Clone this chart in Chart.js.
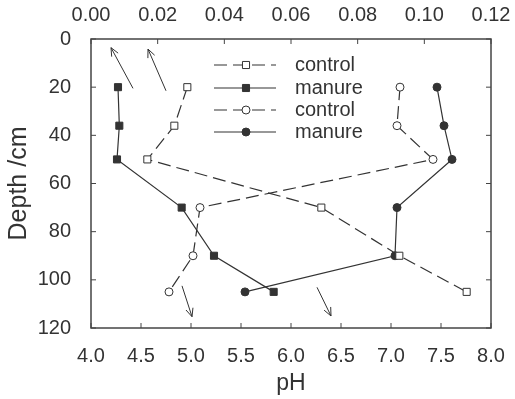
<!DOCTYPE html>
<html>
<head>
<meta charset="utf-8">
<script src="https://cdn.jsdelivr.net/npm/chart.js@4.4.1/dist/chart.umd.min.js"></script>
<style>
  body { margin: 0; background: #fff; }
  canvas { display: block; }
</style>
</head>
<body>
<canvas id="chartCanvas" width="515" height="399"></canvas>
<script>
// depth of each sample (cm)
const depthCm = [20, 36, 50, 70, 90, 105];
// squares -> top axis
const controlSquare = [0.0289, 0.0250, 0.0169, 0.0691, 0.0925, 0.1127];
const manureSquare = [0.0081, 0.0085, 0.0078, 0.0272, 0.0369, 0.0548];
// circles -> pH (bottom axis)
const controlCircle = [7.09, 7.06, 7.42, 5.09, 5.02, 4.78];
const manureCircle = [7.46, 7.53, 7.61, 7.06, 7.04, 5.54];

const seriesLabels = ['control', 'manure', 'control', 'manure'];

// arrows pointing at the axis used, in pH / depth units
const arrowFrom = [[4.42, 20.5], [4.75, 21.5], [4.91, 102.5], [6.26, 103.1]];
const arrowTo = [[4.20, 3.6], [4.57, 4.2], [5.01, 115.3], [6.40, 115.0]];

const INK = '#333';
const FONT = 'Liberation Sans, Arial, sans-serif';

function toPoints(xs) {
    return xs.map((v, i) => ({ x: v, y: depthCm[i] }));
}

const frameAndTicks = {
    id: 'frameAndTicks',
    afterDraw(chart) {
        const ctx = chart.ctx;
        const a = chart.chartArea;
        const len = 5;
        ctx.save();
        ctx.strokeStyle = '#444';
        ctx.lineWidth = 1;
        ctx.beginPath();
        chart.scales.x.ticks.forEach(t => {
            const px = chart.scales.x.getPixelForValue(t.value);
            ctx.moveTo(px, a.bottom); ctx.lineTo(px, a.bottom - len);
        });
        chart.scales.x2.ticks.forEach(t => {
            const px = chart.scales.x2.getPixelForValue(t.value);
            ctx.moveTo(px, a.top); ctx.lineTo(px, a.top + len);
        });
        chart.scales.y.ticks.forEach(t => {
            const py = chart.scales.y.getPixelForValue(t.value);
            ctx.moveTo(a.left, py); ctx.lineTo(a.left + len, py);
            ctx.moveTo(a.right, py); ctx.lineTo(a.right - len, py);
        });
        ctx.stroke();
        ctx.lineWidth = 1.5;
        ctx.strokeRect(a.left, a.top, a.right - a.left, a.bottom - a.top);

        // arrows
        const sx = chart.scales.x, sy = chart.scales.y;
        ctx.lineWidth = 1;
        ctx.strokeStyle = INK;
        for (let i = 0; i < arrowFrom.length; i++) {
            const x1 = sx.getPixelForValue(arrowFrom[i][0]);
            const y1 = sy.getPixelForValue(arrowFrom[i][1]);
            const x2 = sx.getPixelForValue(arrowTo[i][0]);
            const y2 = sy.getPixelForValue(arrowTo[i][1]);
            const ang = Math.atan2(y2 - y1, x2 - x1);
            const h = 9, spread = 0.42;
            ctx.beginPath();
            ctx.moveTo(x1, y1); ctx.lineTo(x2, y2);
            ctx.moveTo(x2 - h * Math.cos(ang - spread), y2 - h * Math.sin(ang - spread));
            ctx.lineTo(x2, y2);
            ctx.lineTo(x2 - h * Math.cos(ang + spread), y2 - h * Math.sin(ang + spread));
            ctx.stroke();
        }
        ctx.restore();
    }
};

const insideLegend = {
    id: 'insideLegend',
    afterDraw(chart) {
        const ctx = chart.ctx;
        const x0 = 214, x1 = 276, xm = 246, tx = 295;
        const rows = [65, 88, 110, 132];
        ctx.save();
        chart.data.datasets.forEach((ds, i) => {
            const y = rows[i];
            ctx.strokeStyle = ds.borderColor;
            ctx.lineWidth = ds.borderWidth;
            ctx.setLineDash(ds.borderDash || []);
            ctx.beginPath();
            ctx.moveTo(x0, y); ctx.lineTo(x1, y);
            ctx.stroke();
            ctx.setLineDash([]);
            ctx.fillStyle = ds.pointBackgroundColor;
            ctx.strokeStyle = ds.pointBorderColor;
            ctx.lineWidth = 1;
            Chart.helpers.drawPoint(ctx, { pointStyle: ds.pointStyle, radius: ds.pointRadius, rotation: 0, borderWidth: 1 }, xm, y);
            ctx.fillStyle = INK;
            ctx.font = '20px ' + FONT;
            ctx.textBaseline = 'middle';
            ctx.fillText(ds.label, tx, y);
        });
        ctx.restore();
    }
};

function series(label, values, axis, style, filled, dashed) {
    return {
        label: label,
        data: toPoints(values),
        xAxisID: axis,
        showLine: true,
        borderColor: INK,
        borderWidth: 1.2,
        borderDash: dashed ? [13, 6] : [],
        pointStyle: style,
        pointRadius: style === 'rect' ? 5 : 4,
        pointBorderWidth: 1,
        pointBorderColor: INK,
        pointBackgroundColor: filled ? INK : '#fff',
        tension: 0
    };
}

new Chart(document.getElementById('chartCanvas'), {
    type: 'scatter',
    data: {
        datasets: [
            series(seriesLabels[0], controlSquare, 'x2', 'rect', false, true),
            series(seriesLabels[1], manureSquare, 'x2', 'rect', true, false),
            series(seriesLabels[2], controlCircle, 'x', 'circle', false, true),
            series(seriesLabels[3], manureCircle, 'x', 'circle', true, false)
        ]
    },
    options: {
        responsive: false,
        animation: false,
        layout: { padding: { left: 0, right: 24, top: 0, bottom: 0 } },
        plugins: { legend: { display: false }, tooltip: { enabled: false } },
        scales: {
            x: {
                type: 'linear', position: 'bottom', min: 4, max: 8,
                ticks: { stepSize: 0.5, callback: v => v.toFixed(1), color: INK, font: { size: 20, family: FONT }, padding: 8, maxRotation: 0 },
                grid: { display: false }, border: { display: false },
                title: { display: true, text: 'pH', color: INK, font: { size: 23, family: FONT }, padding: { top: 0, bottom: 2 } },
                afterFit: s => { s.height = 71; }
            },
            x2: {
                type: 'linear', position: 'top', min: 0, max: 0.12,
                ticks: { stepSize: 0.02, callback: v => v.toFixed(2), color: INK, font: { size: 20, family: FONT }, padding: 4, maxRotation: 0 },
                grid: { display: false }, border: { display: false },
                afterFit: s => { s.height = 39; }
            },
            y: {
                type: 'linear', reverse: true, min: 0, max: 120,
                ticks: { stepSize: 20, color: INK, font: { size: 20, family: FONT }, padding: 12 },
                grid: { display: false }, border: { display: false },
                title: { display: true, text: 'Depth /cm', color: INK, font: { size: 25, family: FONT }, padding: 4 },
                afterFit: s => { s.width = 91; }
            }
        }
    },
    plugins: [frameAndTicks, insideLegend]
});
</script>
</body>
</html>
